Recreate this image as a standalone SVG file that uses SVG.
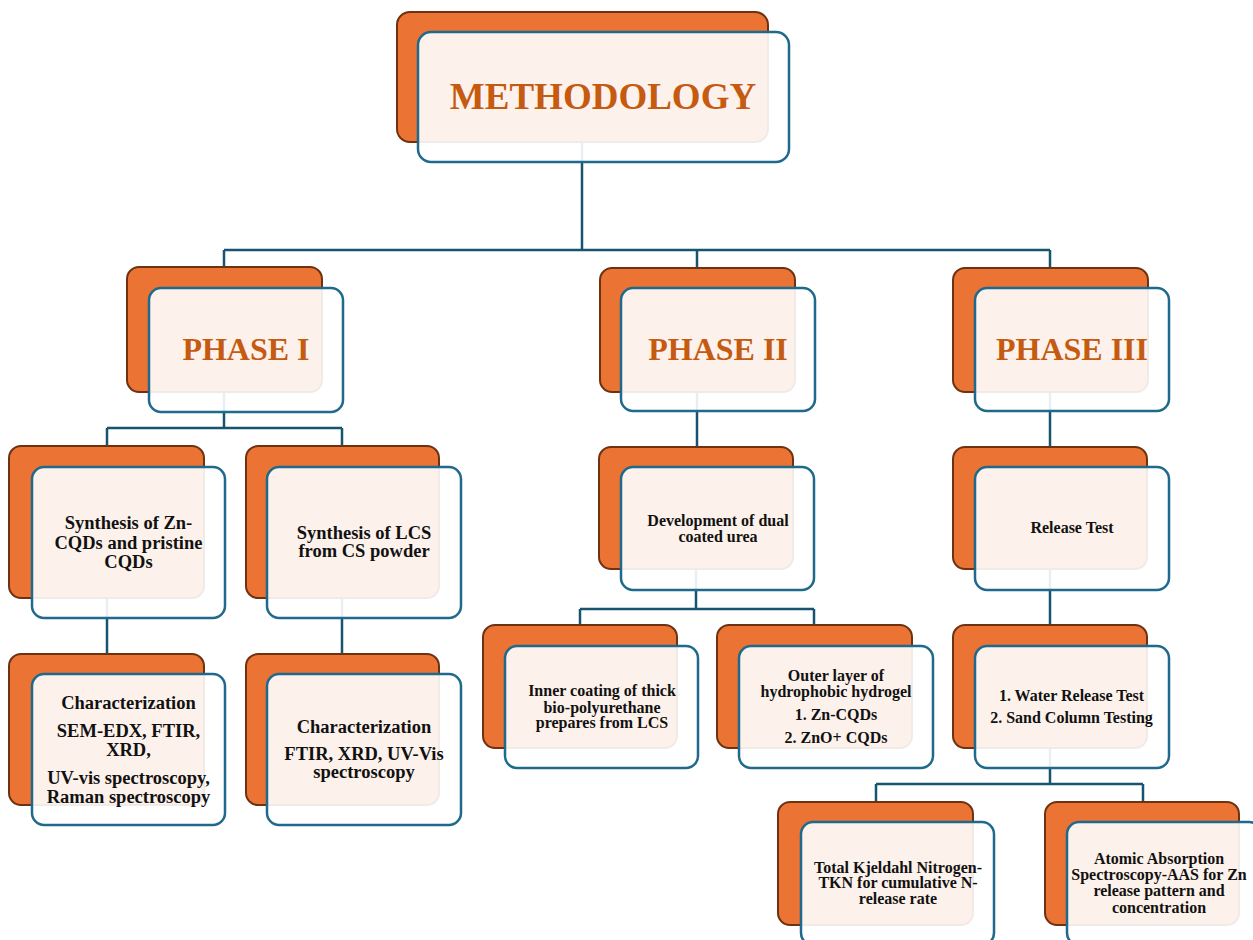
<svg xmlns="http://www.w3.org/2000/svg" width="1253" height="940" viewBox="0 0 1253 940">
<style>
.bk{fill:#EB7333;stroke:#6E3211;stroke-width:2}
.fr{fill:#FFFFFF;fill-opacity:0.9;stroke:#1F6A8C;stroke-width:2.5}
.cn{fill:none;stroke:#175472;stroke-width:2.5}
.h{font-family:"Liberation Serif","Times New Roman",serif;font-weight:bold;fill:#C55A11;text-anchor:middle}
.t{font-family:"Liberation Serif","Times New Roman",serif;font-weight:bold;fill:#111;text-anchor:middle}
.l{font-size:18.5px}
.s{font-size:16px}
</style>
<rect width="1253" height="940" fill="#fff"/>
<g id="connectors" class="cn">
<path d="M582,142V250M224,250H1050M224,250V267M697,250V268M1050,250V268"/>
<path d="M224,392V428M107,428H342M107,428V446M342,428V446"/>
<path d="M107,598V654M342,598V654"/>
<path d="M697,392V447M696,569V609M580,609H814M580,609V625M814,609V625"/>
<path d="M1050,392V447M1050,569V625M1050,748V784M876,784H1143M876,784V802M1143,784V802"/>
</g>
<g id="methodology">
<rect class="bk" x="397" y="12" width="371" height="130" rx="13"/>
<rect class="fr" x="418" y="32" width="371" height="130" rx="13"/>
<text class="h" x="603" y="109" font-size="37">METHODOLOGY</text>
</g>
<g id="phase1">
<rect class="bk" x="127" y="267" width="195" height="125" rx="12"/>
<rect class="fr" x="149" y="288" width="194" height="124" rx="12"/>
<text class="h" x="246" y="360" font-size="32">PHASE I</text>
</g>
<g id="phase2">
<rect class="bk" x="600" y="268" width="195" height="124" rx="12"/>
<rect class="fr" x="621" y="288" width="194" height="123" rx="12"/>
<text class="h" x="718" y="360" font-size="32">PHASE II</text>
</g>
<g id="phase3">
<rect class="bk" x="953" y="268" width="195" height="124" rx="12"/>
<rect class="fr" x="975" y="288" width="194" height="123" rx="12"/>
<text class="h" x="1072" y="360" font-size="32">PHASE III</text>
</g>
<g id="zn-cqds">
<rect class="bk" x="9" y="446" width="195" height="152" rx="12"/>
<rect class="fr" x="32" y="467" width="193" height="151" rx="12"/>
<text class="t l" x="128.5" y="529">Synthesis of Zn-</text>
<text class="t l" x="128.5" y="549">CQDs and pristine</text>
<text class="t l" x="128.5" y="568">CQDs</text>
</g>
<g id="lcs">
<rect class="bk" x="246" y="446" width="193" height="152" rx="12"/>
<rect class="fr" x="267" y="467" width="194" height="151" rx="12"/>
<text class="t l" x="364" y="539">Synthesis of LCS</text>
<text class="t l" x="364" y="557">from CS powder</text>
</g>
<g id="char1">
<rect class="bk" x="9" y="654" width="195" height="151" rx="12"/>
<rect class="fr" x="32" y="674" width="193" height="151" rx="12"/>
<text class="t l" x="128.5" y="709">Characterization</text>
<text class="t l" x="128.5" y="737">SEM-EDX, FTIR,</text>
<text class="t l" x="128.5" y="756">XRD,</text>
<text class="t l" x="128.5" y="783.5">UV-vis spectroscopy,</text>
<text class="t l" x="128.5" y="802.5">Raman spectroscopy</text>
</g>
<g id="char2">
<rect class="bk" x="246" y="654" width="193" height="151" rx="12"/>
<rect class="fr" x="267" y="674" width="194" height="151" rx="12"/>
<text class="t l" x="364" y="732.5">Characterization</text>
<text class="t l" x="364" y="760">FTIR, XRD, UV-Vis</text>
<text class="t l" x="364" y="778">spectroscopy</text>
</g>
<g id="dual-coated">
<rect class="bk" x="599" y="447" width="194" height="122" rx="12"/>
<rect class="fr" x="621" y="467" width="193" height="123" rx="12"/>
<text class="t s" x="718" y="526">Development of dual</text>
<text class="t s" x="718" y="541.7">coated urea</text>
</g>
<g id="inner-coating">
<rect class="bk" x="483" y="625" width="194" height="123" rx="12"/>
<rect class="fr" x="505" y="646" width="193" height="122" rx="12"/>
<text class="t s" x="602" y="696">Inner coating of thick</text>
<text class="t s" x="602" y="712.5">bio-polyurethane</text>
<text class="t s" x="602" y="728">prepares from LCS</text>
</g>
<g id="outer-layer">
<rect class="bk" x="717" y="625" width="195" height="123" rx="12"/>
<rect class="fr" x="739" y="646" width="194" height="122" rx="12"/>
<text class="t s" x="836" y="680.7">Outer layer of</text>
<text class="t s" x="836" y="697">hydrophobic hydrogel</text>
<text class="t s" x="836" y="720">1. Zn-CQDs</text>
<text class="t s" x="836" y="743.3">2. ZnO+ CQDs</text>
</g>
<g id="release-test">
<rect class="bk" x="953" y="447" width="194" height="122" rx="12"/>
<rect class="fr" x="975" y="467" width="194" height="123" rx="12"/>
<text class="t s" x="1072" y="533">Release Test</text>
</g>
<g id="water-sand">
<rect class="bk" x="953" y="625" width="194" height="123" rx="12"/>
<rect class="fr" x="975" y="646" width="194" height="122" rx="12"/>
<text class="t s" x="1071.5" y="700.7">1. Water Release Test</text>
<text class="t s" x="1071.5" y="723.3">2. Sand Column Testing</text>
</g>
<g id="tkn">
<rect class="bk" x="778" y="802" width="195" height="123" rx="12"/>
<rect class="fr" x="801" y="822" width="193" height="123" rx="12"/>
<text class="t s" x="898" y="872.5">Total Kjeldahl Nitrogen-</text>
<text class="t s" x="898" y="888">TKN for cumulative N-</text>
<text class="t s" x="898" y="904">release rate</text>
</g>
<g id="aas">
<rect class="bk" x="1045" y="802" width="194" height="123" rx="12"/>
<rect class="fr" x="1067" y="822" width="194" height="123" rx="12"/>
<text class="t s" x="1159" y="864">Atomic Absorption</text>
<text class="t s" x="1159" y="880">Spectroscopy-AAS for Zn</text>
<text class="t s" x="1159" y="896">release pattern and</text>
<text class="t s" x="1159" y="912.5">concentration</text>
</g>
</svg>
